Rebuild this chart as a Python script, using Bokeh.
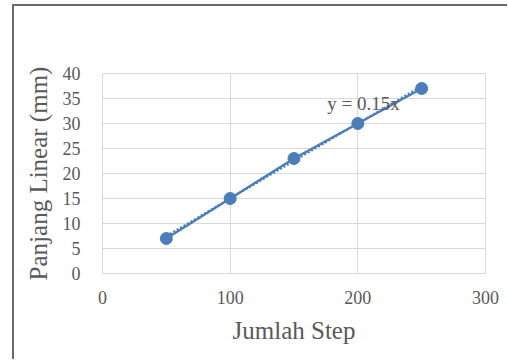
from bokeh.plotting import figure
from bokeh.models import Range1d, FixedTicker
from bokeh.core.properties import value
from bokeh.embed import file_html
from bokeh.resources import INLINE

# data
steps = [50, 100, 150, 200, 250]
lengths = [7, 15, 23, 30, 37]
trend_x = [50, 250]
trend_y = [7.5, 37.5]
eq_text = ["y = 0.15x"]
eq_x = [176]
eq_y = [34]
x_ticks = [0, 100, 200, 300]
y_ticks = [0, 5, 10, 15, 20, 25, 30, 35, 40]

FONT = "Liberation Serif"
TXT = "#595959"
BLUE = "#4a7ebb"
GRID = "#d9d9d9"

p = figure(frame_width=383, frame_height=200,
           min_border_left=88, min_border_right=22,
           min_border_top=67, min_border_bottom=86,
           x_range=Range1d(0, 300), y_range=Range1d(0, 40),
           output_backend="svg", toolbar_location=None)
p.styles = {"border-left": "2px solid #6a6a6a", "border-top": "2px solid #6a6a6a",
            "margin-left": "12px", "margin-top": "4px"}

p.outline_line_color = GRID
p.outline_line_width = 1
p.background_fill_color = "white"
p.border_fill_color = "white"

for ax in (p.xaxis[0], p.yaxis[0]):
    ax.axis_line_color = None
    ax.major_tick_line_color = None
    ax.minor_tick_line_color = None
    ax.major_label_text_font = FONT
    ax.major_label_text_font_size = "18px"
    ax.major_label_text_color = TXT
    ax.axis_label_text_font = FONT
    ax.axis_label_text_font_size = "25px"
    ax.axis_label_text_font_style = "normal"
    ax.axis_label_text_color = TXT

p.xaxis.ticker = FixedTicker(ticks=x_ticks)
p.yaxis.ticker = FixedTicker(ticks=y_ticks)
p.xaxis.axis_label = "Jumlah Step"
p.yaxis.axis_label = "Panjang Linear (mm)"
p.xaxis.major_label_standoff = 11
p.yaxis.major_label_standoff = 16
p.xaxis.axis_label_standoff = 10
p.yaxis.axis_label_standoff = 8

p.xgrid.ticker = FixedTicker(ticks=x_ticks)
p.ygrid.ticker = FixedTicker(ticks=y_ticks)
p.xgrid.grid_line_color = GRID
p.ygrid.grid_line_color = GRID
p.xgrid.grid_line_width = 1
p.ygrid.grid_line_width = 1

p.line(trend_x, trend_y, line_color=BLUE, line_width=2, line_dash="2 2")
p.line(steps, lengths, line_color=BLUE, line_width=2.5)
p.scatter(steps, lengths, size=12, fill_color=BLUE, line_color=BLUE)

p.text(x=eq_x, y=eq_y, text=eq_text, text_font=value(FONT),
       text_font_size="19px", text_color=TXT, text_baseline="middle",
       text_align="left")

open("out.html", "w").write(file_html(p, INLINE))
